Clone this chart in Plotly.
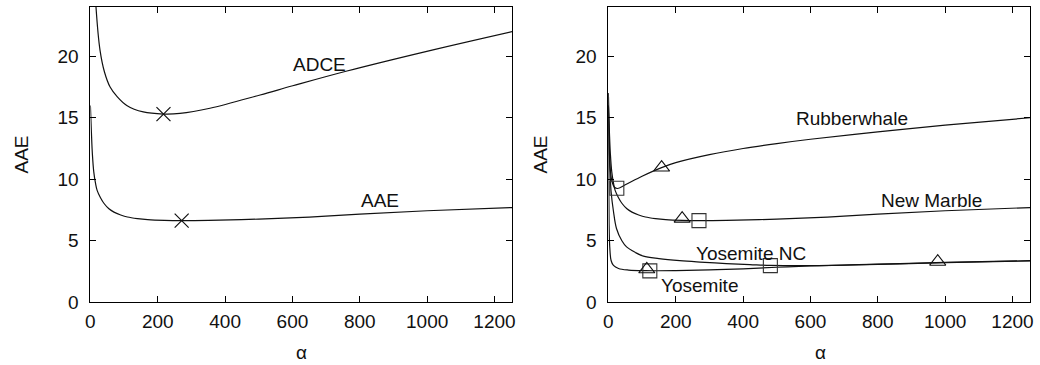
import plotly.graph_objects as go

# ---- left panel: AAE and ADCE as a function of alpha ----
adce_alpha = [5, 10, 16.6, 28.5, 42, 58.5, 80, 108, 157, 217, 266, 355, 504, 601, 762, 999, 1252]
adce_val = [40, 28, 24.0, 20.5, 18.7, 17.5, 16.7, 16.0, 15.47, 15.3, 15.35, 15.77, 16.85, 17.6, 18.8, 20.4, 22.0]

aae_alpha = [0, 3, 6, 10, 15, 20, 30, 40, 55, 70, 90, 110, 140, 170, 220, 270, 350, 500, 650, 800, 1000, 1252]
aae_val = [16, 13.8, 12.0, 10.6, 9.7, 9.1, 8.5, 8.05, 7.6, 7.33, 7.1, 6.93, 6.8, 6.72, 6.66, 6.64, 6.66, 6.76, 6.93, 7.17, 7.44, 7.7]

left_mark_alpha = [217, 271]
left_mark_val = [15.3, 6.64]

# ---- right panel: AAE per sequence ----
rw_alpha = [0, 2, 5, 10, 18, 27, 50, 100, 158, 200, 300, 400, 500, 600, 800, 1000, 1252]
rw_val = [17, 13.5, 11.0, 9.9, 9.35, 9.25, 9.55, 10.25, 10.95, 11.35, 12.0, 12.5, 12.9, 13.25, 13.85, 14.4, 15.0]

nm_alpha = [0, 3, 6, 10, 15, 20, 30, 40, 55, 70, 90, 110, 140, 170, 220, 270, 350, 500, 650, 800, 1000, 1252]
nm_val = [16, 13.8, 12.0, 10.6, 9.7, 9.1, 8.5, 8.05, 7.6, 7.33, 7.1, 6.93, 6.8, 6.72, 6.66, 6.64, 6.66, 6.76, 6.93, 7.17, 7.44, 7.7]

ync_alpha = [0, 3, 8, 15, 24, 40, 54, 80, 104, 150, 212, 272, 350, 420, 482, 600, 800, 1000, 1252]
ync_val = [17, 12, 9, 7.4, 6.0, 5.0, 4.5, 4.05, 3.75, 3.55, 3.38, 3.27, 3.15, 3.07, 3.0, 2.98, 3.1, 3.24, 3.38]

yos_alpha = [0, 1, 2, 4, 8, 15, 30, 60, 110, 200, 300, 400, 500, 600, 800, 1000, 1252]
yos_val = [16, 10, 6.5, 4.5, 3.4, 3.0, 2.75, 2.62, 2.57, 2.58, 2.63, 2.72, 2.85, 2.95, 3.08, 3.22, 3.36]

square_alpha = [25, 269, 481, 123]
square_val = [9.27, 6.64, 2.98, 2.55]
triangle_alpha = [158, 219, 978, 114]
triangle_val = [10.95, 6.8, 3.3, 2.68]

x_ticks = [0, 200, 400, 600, 800, 1000, 1200]
y_ticks = [0, 5, 10, 15, 20]

FONT = "Liberation Sans, Arial, sans-serif"
INK = "#111111"
W, H = 1040, 365


def px(x):
    return x / W


def py(y):
    return 1 - y / H


line_style = dict(color=INK, width=1.2, shape="spline", smoothing=1.0)

fig = go.Figure()

# left panel: curves and the minima marked with crosses
fig.add_trace(go.Scatter(x=adce_alpha, y=adce_val, mode="lines", line=line_style, xaxis="x", yaxis="y"))
fig.add_trace(go.Scatter(x=aae_alpha, y=aae_val, mode="lines", line=line_style, xaxis="x", yaxis="y"))
fig.add_trace(go.Scatter(x=left_mark_alpha, y=left_mark_val, mode="markers",
                         marker=dict(symbol="x-thin", size=14, line=dict(color=INK, width=1.2)),
                         xaxis="x", yaxis="y", cliponaxis=False))

# right panel: one curve per sequence, squares and triangles on top
for a, v in [(rw_alpha, rw_val), (nm_alpha, nm_val), (ync_alpha, ync_val), (yos_alpha, yos_val)]:
    fig.add_trace(go.Scatter(x=a, y=v, mode="lines", line=line_style, xaxis="x2", yaxis="y2"))
fig.add_trace(go.Scatter(x=square_alpha, y=square_val, mode="markers",
                         marker=dict(symbol="square-open", size=14, color="#333333",
                                     line=dict(width=1.1)),
                         xaxis="x2", yaxis="y2", cliponaxis=False))
fig.add_trace(go.Scatter(x=triangle_alpha, y=triangle_val, mode="markers",
                         marker=dict(symbol="triangle-up-open", size=14, color=INK,
                                     line=dict(width=1.1)),
                         xaxis="x2", yaxis="y2", cliponaxis=False))

axis_common = dict(
    showline=True, linecolor="black", linewidth=1, mirror="ticks",
    ticks="inside", ticklen=6, tickcolor="black", tickwidth=1,
    showgrid=False, zeroline=False, automargin=False,
    tickfont=dict(family=FONT, size=19, color=INK),
)
xaxis_common = dict(axis_common, range=[0, 1252], tickvals=x_ticks, ticklabelstandoff=2)
yaxis_common = dict(axis_common, range=[0, 24], tickvals=y_ticks, ticklabelstandoff=7)

fig.update_layout(
    width=W, height=H,
    margin=dict(l=0, r=0, t=0, b=0, autoexpand=False),
    paper_bgcolor="white", plot_bgcolor="white",
    showlegend=False,
    xaxis=dict(xaxis_common, domain=[px(90.4), px(512)], anchor="y"),
    yaxis=dict(yaxis_common, domain=[py(302.3), py(7)], anchor="x"),
    xaxis2=dict(xaxis_common, domain=[px(608.4), px(1030)], anchor="y2"),
    yaxis2=dict(yaxis_common, domain=[py(302.3), py(7)], anchor="x2"),
)

text_font = dict(family=FONT, size=19, color=INK)

# curve labels
curve_labels = [
    ("x", "y", 680, 19.3, "ADCE"),
    ("x", "y", 859, 8.24, "AAE"),
    ("x2", "y2", 723, 14.96, "Rubberwhale"),
    ("x2", "y2", 958, 8.24, "New Marble"),
    ("x2", "y2", 422, 3.98, "Yosemite NC"),
    ("x2", "y2", 272, 1.35, "Yosemite"),
]
for xr, yr, x, y, t in curve_labels:
    fig.add_annotation(xref=xr, yref=yr, x=x, y=y, text=t, showarrow=False,
                       font=text_font, xanchor="center", yanchor="middle")

# axis titles
for cx in (21.5, 540.5):
    fig.add_annotation(xref="paper", yref="paper", x=px(cx), y=py(155), text="AAE",
                       textangle=-90, showarrow=False, font=text_font,
                       xanchor="center", yanchor="middle")
for cx in (301.5, 820):
    fig.add_annotation(xref="paper", yref="paper", x=px(cx), y=py(352), text="α",
                       showarrow=False, font=text_font, xanchor="center", yanchor="middle")

fig.write_html("out.html")
